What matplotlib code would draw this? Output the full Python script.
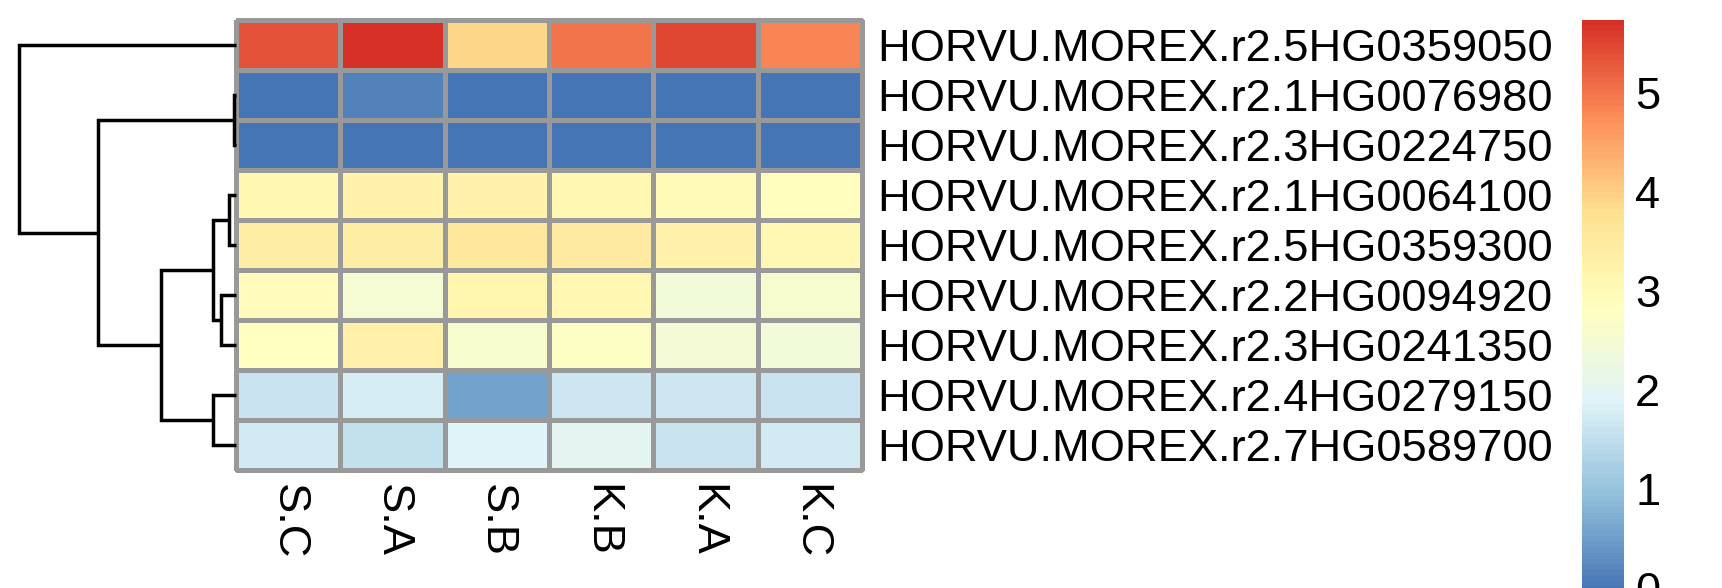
import numpy as np
import matplotlib
matplotlib.use("Agg")
import matplotlib.pyplot as plt
from matplotlib.colors import LinearSegmentedColormap

plt.rcParams['font.family'] = ['Liberation Sans', 'DejaVu Sans']

# rows in the order shown (top to bottom), after clustering
genes = ["HORVU.MOREX.r2.5HG0359050", "HORVU.MOREX.r2.1HG0076980",
         "HORVU.MOREX.r2.3HG0224750", "HORVU.MOREX.r2.1HG0064100",
         "HORVU.MOREX.r2.5HG0359300", "HORVU.MOREX.r2.2HG0094920",
         "HORVU.MOREX.r2.3HG0241350", "HORVU.MOREX.r2.4HG0279150",
         "HORVU.MOREX.r2.7HG0589700"]
samples = ["S.C", "S.A", "S.B", "K.B", "K.A", "K.C"]

values = np.array([
    [5.38, 5.74, 3.90, 5.03, 5.50, 4.83],
    [0.00, 0.15, 0.00, 0.00, 0.00, 0.00],
    [-0.02, 0.00, -0.05, 0.00, -0.01, 0.00],
    [3.13, 3.22, 3.25, 3.12, 2.97, 2.90],
    [3.40, 3.37, 3.50, 3.48, 3.22, 3.05],
    [2.93, 2.50, 3.19, 3.12, 2.41, 2.56],
    [2.80, 3.30, 2.57, 2.75, 2.47, 2.40],
    [1.60, 1.80, 0.57, 1.68, 1.68, 1.59],
    [1.70, 1.52, 1.88, 2.03, 1.60, 1.70],
])

# row dendrogram: (left child, right child, height); leaves are 0..8,
# merged nodes are numbered 9, 10, ... in the order listed
merges = [
    (1, 2, 0.07),
    (3, 4, 0.34),
    (5, 6, 0.71),
    (10, 11, 1.07),
    (7, 8, 1.07),
    (12, 13, 3.46),
    (9, 14, 6.35),
    (0, 15, 10.0),
]

# pheatmap default palette: rev(brewer.pal(7, "RdYlBu")), 100 steps
palette = ["#4575B4", "#91BFDB", "#E0F3F8", "#FFFFBF", "#FEE090", "#FC8D59", "#D73027"]
cmap = LinearSegmentedColormap.from_list("rdylbu_r", palette, N=100)

W, H = 1722, 588
FS = 32.6


def box(l, t, r, b):
    return [l / W, 1 - b / H, (r - l) / W, (b - t) / H]


fig = plt.figure(figsize=(W / 100, H / 100), dpi=100)

# heatmap
ax = fig.add_axes(box(236, 20, 862, 470))
mesh = ax.pcolormesh(np.arange(len(samples) + 1), np.arange(len(genes) + 1), values,
                     cmap=cmap, vmin=values.min(), vmax=values.max(),
                     edgecolors="#999999", linewidth=2.3)
mesh.set_clip_on(False)
ax.set_xlim(0, len(samples))
ax.set_ylim(len(genes), 0)
for s in ax.spines.values():
    s.set_visible(False)
ax.yaxis.tick_right()
ax.set_yticks(np.arange(len(genes)) + 0.5)
ax.set_yticklabels(genes)
ax.set_xticks(np.arange(len(samples)) + 0.5)
ax.set_xticklabels(samples, rotation=270)
ax.tick_params(axis='y', length=0, pad=11, labelsize=FS)
ax.tick_params(axis='x', length=0, pad=10, labelsize=FS)

# dendrogram
dax = fig.add_axes(box(19, 20, 236, 470))
dax.set_xlim(merges[-1][2], 0)
dax.set_ylim(len(genes), 0)
dax.axis('off')
pos = {i: (0.0, i + 0.5) for i in range(len(genes))}
for k, (a, b, h) in enumerate(merges):
    ha, ya = pos[a]
    hb, yb = pos[b]
    dax.plot([ha, h, h, hb], [ya, ya, yb, yb], color='black', lw=2.5,
             solid_joinstyle='miter', solid_capstyle='butt', clip_on=False)
    pos[len(genes) + k] = (h, (ya + yb) / 2)

# colour legend
cax = fig.add_axes(box(1582, 20, 1624, 593))
cb = fig.colorbar(mesh, cax=cax, ticks=range(6))
cb.outline.set_visible(False)
cax.tick_params(length=0, pad=8, labelsize=FS)

fig.savefig("out.png", dpi=100)
